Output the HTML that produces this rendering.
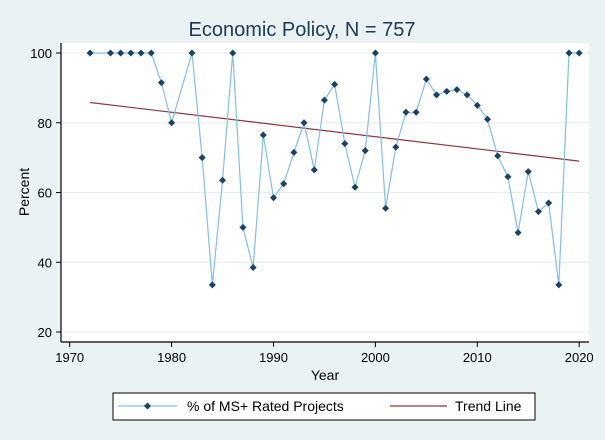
<!DOCTYPE html>
<html><head><meta charset="utf-8"><style>
body{margin:0;background:#eaf2f3;font-family:"Liberation Sans",sans-serif}
svg{display:block}
</style></head><body>
<svg id="c" width="605" height="440">
<rect x="0" y="0" width="605" height="440" fill="#eaf2f3"/>
<rect x="61" y="43" width="528" height="299" fill="#fff"/>
<text x="302" y="36" text-anchor="middle" font-size="20" fill="#1a3a5c">Economic Policy, N = 757</text>
<g id="grid"></g><g id="axes"></g><g id="marks"></g>
<text x="325" y="380" text-anchor="middle" font-size="14" fill="#000">Year</text>
<text transform="translate(29,192) rotate(-90)" text-anchor="middle" font-size="14" fill="#000">Percent</text>
<g>
<rect x="113" y="393" width="422" height="27" fill="#fff" stroke="#000" stroke-width="1"/>
<g>
<line x1="118" y1="406" x2="177" y2="406" stroke="#7fbfe9" stroke-width="1.2"/>
<path d="M147.5 402.5 L151 406 L147.5 409.5 L144 406Z" fill="#1a4268"/>
<text x="187" y="411" font-size="14">% of MS+ Rated Projects</text></g>
<g>
<line x1="390" y1="406" x2="447" y2="406" stroke="#90353b" stroke-width="1.2"/>
<text x="455" y="411" font-size="14">Trend Line</text></g>
</g>
</svg>
<script>
const years=[1972,1974,1975,1976,1977,1978,1979,1980,1982,1983,1984,1985,1986,1987,1988,1989,1990,1991,1992,1993,1994,1995,1996,1997,1998,1999,2000,2001,2002,2003,2004,2005,2006,2007,2008,2009,2010,2011,2012,2013,2014,2015,2016,2017,2018,2019,2020];
const pct=[100,100,100,100,100,100,91.5,80,100,70,33.5,63.5,100,50,38.5,76.5,58.5,62.5,71.5,80,66.5,86.5,91,74,61.5,72,100,55.5,73,83,83,92.5,88,89,89.5,88,85,81,70.5,64.5,48.5,66,54.5,57,33.5,100,100];
const trendYears=[1972,2020];
const trendVals=[85.8,69.0];
const xTicks=[1970,1980,1990,2000,2010,2020];
const yTicks=[20,40,60,80,100];
const NS="http://www.w3.org/2000/svg";
const X=v=>69.7+(v-1970)*10.19;
const Y=v=>53+(100-v)*3.4875;
function mk(t,a,p){const e=document.createElementNS(NS,t);for(const k in a)e.setAttribute(k,a[k]);p.appendChild(e);return e;}
const grid=document.getElementById('grid'),axes=document.getElementById('axes'),marks=document.getElementById('marks');
yTicks.forEach(v=>{
 const g=mk('line',{x1:61,x2:589,y1:Y(v),y2:Y(v),stroke:'#e6eeee','stroke-width':1},grid);
 
 
 const t=mk('line',{x1:56,x2:61,y1:Y(v),y2:Y(v),stroke:'#000'},axes);
 
 
 const l=mk('text',{x:52,y:Y(v)+5,'text-anchor':'end','font-size':13},axes);
 l.textContent=v;
 
 
});
xTicks.forEach(v=>{
 const t=mk('line',{x1:X(v),x2:X(v),y1:342,y2:347,stroke:'#000'},axes);
 
 
 const l=mk('text',{x:X(v),y:362,'text-anchor':'middle','font-size':13},axes);
 l.textContent=v;
 
 
});
const ya=mk('line',{x1:61,x2:61,y1:43,y2:342,stroke:'#000','stroke-width':1.2},axes);


const xa=mk('line',{x1:61,x2:589,y1:342,y2:342,stroke:'#000','stroke-width':1.2},axes);


const tl=mk('polyline',{points:trendYears.map((y,i)=>X(y)+','+Y(trendVals[i])).join(' '),fill:'none',stroke:'#90353b','stroke-width':1.2},marks);


const sl=mk('polyline',{points:years.map((y,i)=>X(y)+','+Y(pct[i])).join(' '),fill:'none',stroke:'#7fbfe9','stroke-width':1.2},marks);


years.forEach((y,i)=>{
 const cx=X(y),cy=Y(pct[i]);
 const p=mk('path',{d:`M${cx} ${cy-3.5}L${cx+3.5} ${cy}L${cx} ${cy+3.5}L${cx-3.5} ${cy}Z`,fill:'#1a4268'},marks);
 
 
});
</script>
</body></html>
